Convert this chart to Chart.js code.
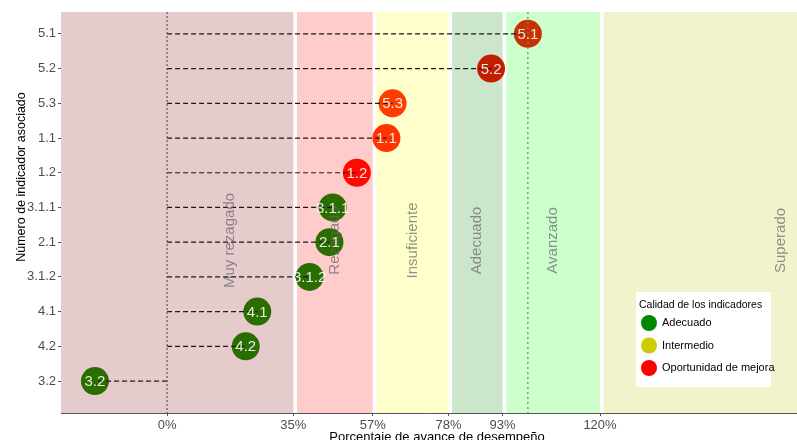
<!DOCTYPE html>
<html>
<head>
<meta charset="utf-8">
<script src="https://cdn.jsdelivr.net/npm/chart.js@4"></script>
<style>
  html, body { margin: 0; padding: 0; background: #fff; }
  #wrap { width: 797px; height: 440px; }
</style>
</head>
<body>
<div id="wrap"><canvas id="c"></canvas></div>
<script>
const categories = ['5.1','5.2','5.3','1.1','1.2','3.1.1','2.1','3.1.2','4.1','4.2','3.2'];
const values = [100, 89.8, 62.5, 60.8, 52.6, 45.9, 45.0, 39.5, 25.0, 21.8, -20.0];
const pointColors = ['#c83200','#c41e00','#ff3c00','#ff3400','#ff0a00','#2b6e00','#2b6e00','#2b6e00','#2b6e00','#2b6e00','#2b6e00'];
const xTicks = [0, 35, 57, 78, 93, 120];
const bandNames = ['Muy rezagado','Rezagado','Insuficiente','Adecuado','Avanzado','Superado'];
const bandStarts = [-1000, 36, 58, 79, 94, 121];
const bandEnds = [35, 57, 78, 93, 120, 1000];
const bandColors = ['#e6cbcd','#ffcccc','#ffffcc','#cce6cc','#ccffcc','#f2f3cc'];
const bandLabelX = [17.5, 46.5, 68, 86, 107, 170];
const legendTitle = 'Calidad de los indicadores';
const legendLabels = ['Adecuado','Intermedio','Oportunidad de mejora'];
const legendColors = ['#008800','#cccc00','#ff0000'];
const xTitle = 'Porcentaje de avance de desempeño';
const yTitle = 'Número de indicador asociado';

Chart.defaults.font.family = '"Liberation Sans", Arial, sans-serif';

const FONT = '"Liberation Sans", Arial, sans-serif';

const bandsPlugin = {
  id: 'bands',
  beforeDatasetsDraw(chart) {
    const {ctx, chartArea: a, scales: {x}} = chart;
    ctx.save();
    ctx.fillStyle = '#ffffff';
    ctx.fillRect(a.left, a.top, a.right - a.left, a.bottom - a.top);
    for (let i = 0; i < bandNames.length; i++) {
      const x0 = Math.max(a.left, x.getPixelForValue(bandStarts[i]));
      const x1 = Math.min(a.right, x.getPixelForValue(bandEnds[i]));
      ctx.fillStyle = bandColors[i];
      ctx.fillRect(x0, a.top, x1 - x0, a.bottom - a.top);
    }
    ctx.restore();
  },
  afterDatasetsDraw(chart) {
    const {ctx, chartArea: a, scales: {x, y}} = chart;
    ctx.save();
    // dashed connectors
    ctx.strokeStyle = '#1a1a1a';
    ctx.lineWidth = 1.2;
    ctx.setLineDash([5, 3]);
    for (let i = 0; i < categories.length; i++) {
      const py = y.getPixelForValue(i);
      ctx.beginPath();
      ctx.moveTo(x.getPixelForValue(0), py);
      ctx.lineTo(x.getPixelForValue(values[i]), py);
      ctx.stroke();
    }
    // vertical reference lines
    ctx.setLineDash([2, 2]);
    ctx.lineWidth = 1;
    ctx.strokeStyle = '#444';
    let px = x.getPixelForValue(0);
    ctx.beginPath(); ctx.moveTo(px, a.top); ctx.lineTo(px, a.bottom); ctx.stroke();
    ctx.setLineDash([2, 3]);
    ctx.lineWidth = 1.4;
    ctx.strokeStyle = 'rgba(110,140,110,0.9)';
    px = x.getPixelForValue(100);
    ctx.beginPath(); ctx.moveTo(px, a.top); ctx.lineTo(px, a.bottom); ctx.stroke();
    ctx.setLineDash([]);
    // band labels
    ctx.font = '15px ' + FONT;
    ctx.fillStyle = 'rgba(100,100,100,0.7)';
    ctx.textAlign = 'center';
    ctx.textBaseline = 'middle';
    const ly = y.getPixelForValue(5.95);
    for (let i = 0; i < bandNames.length; i++) {
      ctx.save();
      ctx.translate(x.getPixelForValue(bandLabelX[i]), ly);
      ctx.rotate(-Math.PI / 2);
      ctx.fillText(bandNames[i], 0, 0);
      ctx.restore();
    }
    // point labels
    ctx.font = '15px ' + FONT;
    ctx.fillStyle = 'rgba(255,255,255,0.88)';
    for (let i = 0; i < categories.length; i++) {
      ctx.fillText(categories[i], x.getPixelForValue(values[i]), y.getPixelForValue(i) + 1);
    }
    ctx.restore();
  },
  afterDraw(chart) {
    const {ctx} = chart;
    ctx.save();
    // axis titles
    ctx.fillStyle = '#000';
    ctx.font = '13px ' + FONT;
    ctx.textAlign = 'center';
    ctx.textBaseline = 'middle';
    ctx.fillText(xTitle, 437, 437);
    ctx.save();
    ctx.translate(22, 177);
    ctx.rotate(-Math.PI / 2);
    ctx.font = '12.5px ' + FONT;
    ctx.fillText(yTitle, 0, 0);
    ctx.restore();
    // legend
    ctx.fillStyle = '#ffffff';
    ctx.fillRect(636, 292, 135, 95);
    ctx.fillStyle = '#000';
    ctx.textAlign = 'left';
    ctx.font = '10.5px ' + FONT;
    ctx.fillText(legendTitle, 639, 305);
    ctx.font = '11px ' + FONT;
    for (let i = 0; i < legendLabels.length; i++) {
      const cy = 323 + i * 22.5;
      ctx.fillStyle = legendColors[i];
      ctx.beginPath(); ctx.arc(649, cy, 8, 0, Math.PI * 2); ctx.fill();
      ctx.fillStyle = '#000';
      ctx.fillText(legendLabels[i], 662, cy);
    }
    ctx.restore();
  }
};

new Chart(document.getElementById('c'), {
  type: 'scatter',
  data: {
    datasets: [{
      data: values.map((v, i) => ({x: v, y: i})),
      pointRadius: 14,
      pointHoverRadius: 14,
      pointBackgroundColor: pointColors,
      pointBorderWidth: 0,
      borderWidth: 0
    }]
  },
  options: {
    responsive: true,
    maintainAspectRatio: false,
    animation: false,
    layout: { autoPadding: false, padding: { top: 12, right: 0, left: 0, bottom: 0 } },
    plugins: { legend: { display: false }, tooltip: { enabled: false } },
    scales: {
      x: {
        type: 'linear',
        min: -29.4,
        max: 174.6,
        afterBuildTicks(s) { s.ticks = xTicks.map(v => ({value: v})); },
        afterFit(s) { s.height = 27; },
        ticks: {
          callback: v => v + '%',
          color: '#4d4d4d',
          font: { size: 13 },
          padding: 2,
          maxRotation: 0,
          autoSkip: false
        },
        grid: { display: true, drawOnChartArea: false, drawTicks: true, tickLength: 3, color: '#555' },
        border: { display: true, color: '#555', width: 1 }
      },
      y: {
        type: 'linear',
        reverse: true,
        min: -0.63,
        max: 10.92,
        afterBuildTicks(s) { s.ticks = categories.map((c, i) => ({value: i})); },
        afterFit(s) { s.width = 61; },
        ticks: {
          callback: v => categories[v],
          color: '#4d4d4d',
          font: { size: 13 },
          padding: 2,
          autoSkip: false
        },
        grid: { display: true, drawOnChartArea: false, drawTicks: true, tickLength: 3, color: '#555' },
        border: { display: true, color: '#555', width: 1 }
      }
    }
  },
  plugins: [bandsPlugin]
});
</script>
</body>
</html>
